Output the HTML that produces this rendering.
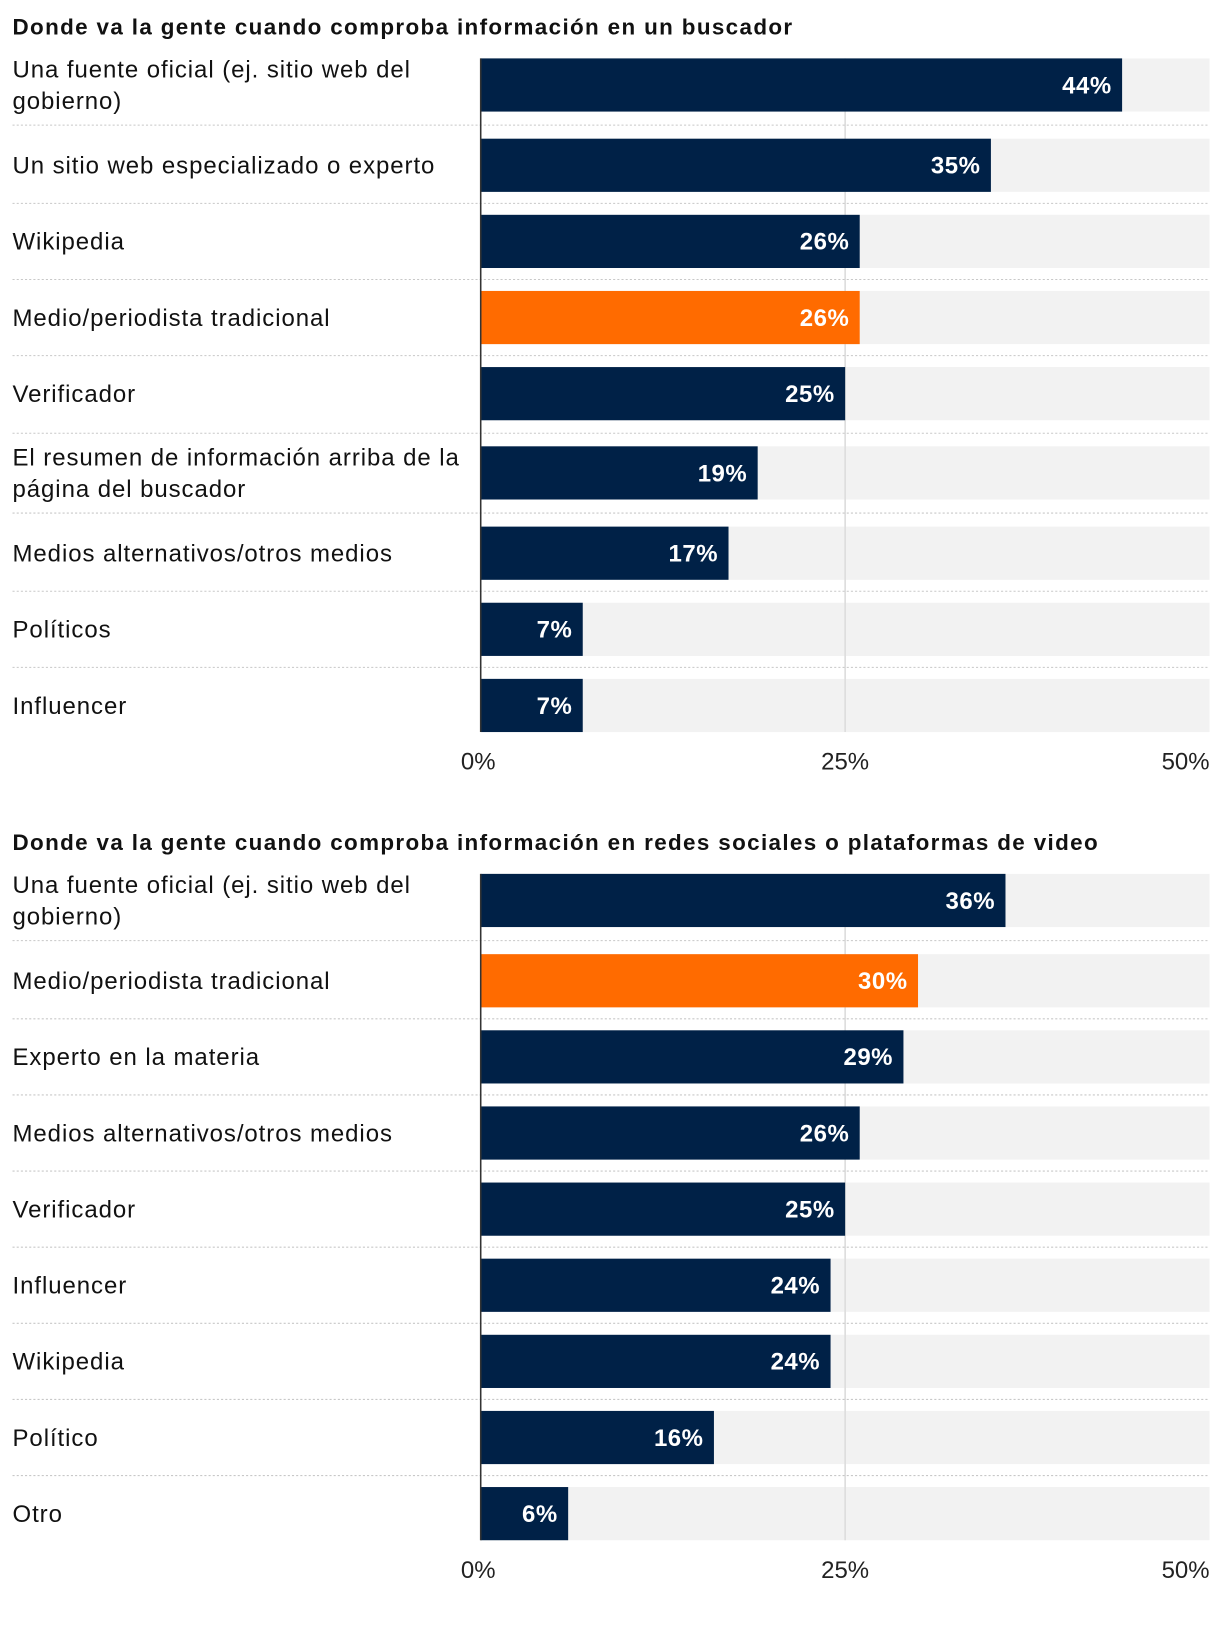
<!DOCTYPE html>
<html><head><meta charset="utf-8"><style>
html,body{margin:0;padding:0;background:#fff;}
svg{display:block;font-family:"Liberation Sans",sans-serif;}
</style></head><body>
<svg id="chart" width="1220" height="1632" viewBox="0 0 1170 1565" preserveAspectRatio="none" xmlns="http://www.w3.org/2000/svg"></svg>
<script>
const cats1 = [["Una fuente oficial (ej. sitio web del","gobierno)"],["Un sitio web especializado o experto"],["Wikipedia"],["Medio/periodista tradicional"],["Verificador"],["El resumen de información arriba de la","página del buscador"],["Medios alternativos/otros medios"],["Políticos"],["Influencer"]];
const vals1 = [44,35,26,26,25,19,17,7,7];
const hl1 = [false,false,false,true,false,false,false,false,false];
const cats2 = [["Una fuente oficial (ej. sitio web del","gobierno)"],["Medio/periodista tradicional"],["Experto en la materia"],["Medios alternativos/otros medios"],["Verificador"],["Influencer"],["Wikipedia"],["Político"],["Otro"]];
const vals2 = [36,30,29,26,25,24,24,16,6];
const hl2 = [false,true,false,false,false,false,false,false,false];
const ticks = [0,25,50];
const titles = ["Donde va la gente cuando comproba información en un buscador","Donde va la gente cuando comproba información en redes sociales o plataformas de video"];

const svg = document.getElementById('chart');
const NS = 'http://www.w3.org/2000/svg';
function mk(tag, attrs, parent){const e=document.createElementNS(NS,tag);for(const k in attrs)e.setAttribute(k,attrs[k]);(parent||svg).appendChild(e);return e;}
const X0=461, X1=1160;
const x = v => X0 + (v/50)*(X1-X0);

function drawChart(idx, titleY, startY, cats, vals, hl){
  const g = mk('g',{});
  
  
  const t = mk('text',{x:12,y:titleY,'font-size':21.5,'font-weight':'bold',fill:'#111','letter-spacing':1.3},g);
  t.textContent = titles[idx];
  
  
  let extra = 0; const tops=[];
  cats.forEach((c,i)=>{
    if(i>0 && c.length>1) extra+=3;
    if(i>0 && cats[i-1].length>1) extra+=4;
    tops.push(startY + i*73 + extra);
  });
  const barH = 51;
  const bottom = tops[tops.length-1]+barH;
  tops.forEach((top,i)=>{
    const bg = mk('rect',{x:X0,y:top,width:X1-X0,height:barH,fill:'#f2f2f2'},g);
    
    
  });
  const gl = mk('line',{x1:x(25),x2:x(25),y1:startY,y2:bottom,stroke:'#dcdcdc','stroke-width':1.5},g);
  
  
  tops.forEach((top,i)=>{
    if(i<tops.length-1){
      const sy = (top+barH+tops[i+1])/2;
      const sep = mk('line',{x1:12,x2:X1,y1:sy,y2:sy,stroke:'#c8c8c8','stroke-width':1,'stroke-dasharray':'2,2'},g);
      
      
    }
    const b = mk('rect',{x:X0,y:top,width:x(vals[i])-X0,height:barH,fill:hl[i]?'#ff6b00':'#002147'},g);
    
    
    const v = mk('text',{x:x(vals[i])-10,y:top+barH/2+8,'font-size':23,'font-weight':'bold',fill:'#fff','text-anchor':'end','letter-spacing':0.5},g);
    v.textContent = vals[i]+'%';
    
    
    const lines = cats[i];
    lines.forEach((ln,j)=>{
      const yy = top+barH/2+8 + (lines.length>1 ? (j-0.5)*30 : 0);
      const l = mk('text',{x:12,y:yy,'font-size':23,fill:'#111','letter-spacing':0.9},g);
      l.textContent = ln;
      
      
    });
  });
  const ax = mk('line',{x1:X0,x2:X0,y1:startY,y2:bottom,stroke:'#333','stroke-width':1.5},g);
  
  
  ticks.forEach((tv,i)=>{
    const anchor = i===0?'start':(i===ticks.length-1?'end':'middle');
    const tx = i===0? x(tv)-19 : x(tv);
    const tk = mk('text',{x:tx,y:bottom+36,'font-size':23,fill:'#222','text-anchor':anchor},g);
    tk.textContent = tv+'%';
    
    
  });
}
drawChart(0, 33, 56, cats1, vals1, hl1);
drawChart(1, 815, 838, cats2, vals2, hl2);
</script>
</body></html>
